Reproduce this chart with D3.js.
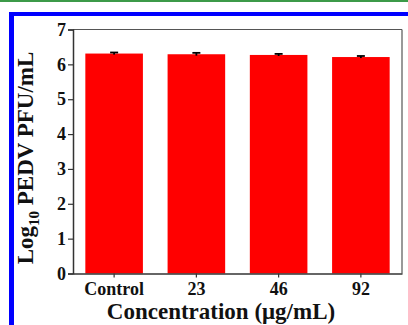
<!DOCTYPE html>
<html><head><meta charset="utf-8">
<script src="https://cdn.jsdelivr.net/npm/d3@7"></script>
<style>body{margin:0;background:#fff;}svg{display:block;}</style>
</head><body>
<script>
const categories = ["Control", "23", "46", "92"];
const values = [6.31, 6.29, 6.27, 6.21];
const errors = [0.03, 0.04, 0.03, 0.03];
const yTicks = [0, 1, 2, 3, 4, 5, 6, 7];

const W = 408, H = 325;
const svg = d3.select("body").append("svg").attr("width", W).attr("height", H);
svg.append("rect").attr("width", W).attr("height", H).attr("fill", "#fff");
// decorations
svg.append("rect").attr("x", 0).attr("y", 0).attr("width", W).attr("height", 2).attr("fill", "#3c9a48");
svg.append("rect").attr("x", 9).attr("y", 12).attr("width", W - 9).attr("height", 4).attr("fill", "#0000ff");
svg.append("rect").attr("x", 9).attr("y", 12).attr("width", 5).attr("height", H - 12).attr("fill", "#0000ff");

const m = {l: 73, r: 402, t: 29.5, b: 273.5};
const x = d3.scaleBand().domain(categories).range([m.l, m.r]).paddingInner(0.3).paddingOuter(0.15);
const y = d3.scaleLinear().domain([0, 7]).range([m.b, m.t]);

const axisColor = "#333";
const font = "'Liberation Serif','Times New Roman',serif";

// bars
svg.selectAll("rect.bar").data(values).enter().append("rect")
  .attr("x", (d, i) => x(categories[i])).attr("width", x.bandwidth())
  .attr("y", d => y(d)).attr("height", d => y(0) - y(d)).attr("fill", "#ff0000");

// error bars
const eg = svg.append("g").attr("stroke", "#000").attr("stroke-width", 1.8);
values.forEach((v, i) => {
  const cx = x(categories[i]) + x.bandwidth() / 2;
  eg.append("line").attr("x1", cx).attr("x2", cx).attr("y1", y(v - errors[i])).attr("y2", y(v + errors[i]));
  eg.append("line").attr("x1", cx - 4).attr("x2", cx + 4).attr("y1", y(v + errors[i])).attr("y2", y(v + errors[i]));
});

// frame top and right
svg.append("line").attr("x1", m.l).attr("x2", m.r).attr("y1", m.t).attr("y2", m.t).attr("stroke", "#555").attr("stroke-width", 1.2);
svg.append("line").attr("x1", m.r).attr("x2", m.r).attr("y1", m.t).attr("y2", m.b).attr("stroke", "#555").attr("stroke-width", 1.2);

// y axis
const ya = svg.append("g").attr("transform", `translate(${m.l},0)`)
  .call(d3.axisLeft(y).tickValues(yTicks).tickFormat(d3.format("d")).tickSize(5).tickPadding(2));
ya.select(".domain").attr("stroke", axisColor).attr("stroke-width", 1.5);
ya.selectAll(".tick line").attr("stroke", axisColor).attr("stroke-width", 1.2);
ya.selectAll("text").attr("font-family", font).attr("font-weight", "bold").attr("font-size", 18).attr("fill", "#111");

// x axis
const xa = svg.append("g").attr("transform", `translate(0,${m.b})`)
  .call(d3.axisBottom(x).tickSize(4).tickSizeOuter(0).tickPadding(5));
xa.select(".domain").attr("stroke", axisColor).attr("stroke-width", 1.5);
xa.selectAll(".tick line").attr("stroke", axisColor).attr("stroke-width", 1.2);
xa.selectAll("text").attr("font-family", font).attr("font-weight", "bold").attr("font-size", 18).attr("fill", "#111");

// x title
svg.append("text").attr("x", 221).attr("y", 318.5).attr("text-anchor", "middle")
  .attr("font-family", font).attr("font-weight", "bold").attr("font-size", 23).attr("fill", "#111")
  .text("Concentration (μg/mL)");

// y title
const yt = svg.append("text").attr("transform", `translate(33,158) rotate(-90)`)
  .attr("text-anchor", "middle").attr("font-family", font).attr("font-weight", "bold").attr("font-size", 23).attr("fill", "#111");
yt.append("tspan").text("Log");
yt.append("tspan").attr("font-size", 15).attr("dy", 6).text("10");
yt.append("tspan").attr("dy", -6).text(" PEDV PFU/mL");
</script>
</body></html>
